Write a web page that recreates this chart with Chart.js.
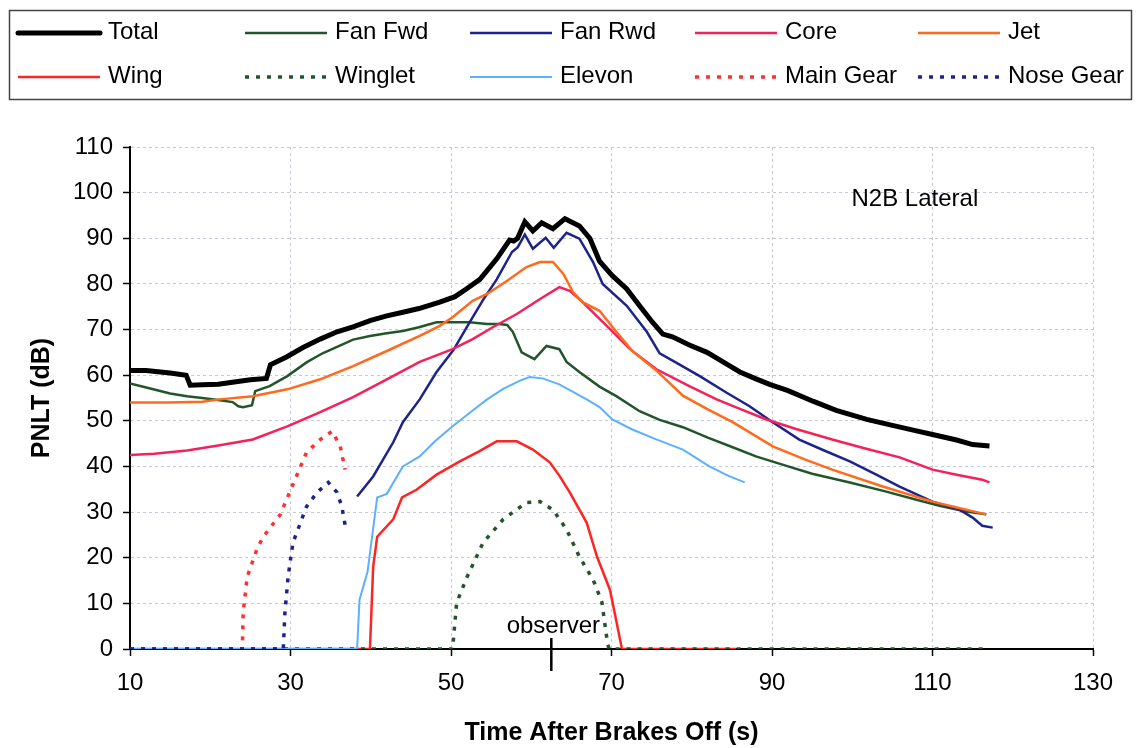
<!DOCTYPE html>
<html>
<head>
<meta charset="utf-8">
<script src="https://cdn.jsdelivr.net/npm/chart.js@4.4.1/dist/chart.umd.min.js"></script>
<style>
  html, body { margin: 0; padding: 0; background: #fff; }
  #wrap { width: 1138px; height: 748px; }
</style>
</head>
<body>
<div id="wrap"><canvas id="pnlt" width="1138" height="748"></canvas></div>
<script>
// [time (s), PNLT (dB)] pairs
const total = [
    [10,61],[12,61],[15,60.5],[17,60],[17.5,57.8],[19,57.9],[21,58],[23,58.5],[25,59],[27,59.3],
    [27.5,62.3],[29.5,64],[31.5,66],[33.7,67.9],[35.8,69.5],[37.8,70.6],[40,72],[42,73],[44,73.8],
    [46,74.6],[48.6,76],[50.5,77.2],[52,79],[53.6,81],[55.7,85.5],[57.3,89.6],[57.8,89.4],[58.3,90],
    [59.2,93.6],[60.2,91.6],[61.3,93.4],[62.7,92.1],[64.2,94.3],[66,92.7],[67.3,90],[68.5,85],
    [70.1,81.8],[71.9,78.9],[73.5,75.2],[75.1,71.6],[76.4,69],[77.6,68.4],[79.7,66.6],[81.9,65],
    [84,62.8],[86,60.7],[88,59.2],[89.7,58],[92,56.6],[95.1,54.3],[98,52.3],[101.8,50.3],[105,49],
    [108,47.8],[110,47],[113,45.8],[115,44.8],[117.1,44.5]
];
const fanFwd = [
    [10,58.2],[12.9,56.9],[15,56],[17.1,55.4],[19,55],[21.2,54.5],[22.8,54.1],[23.5,53.2],[24.1,53],
    [25.2,53.4],[25.6,56.5],[27.4,57.6],[29.6,59.8],[32,62.8],[34,64.8],[35.8,66.2],[37.8,67.8],
    [39.9,68.6],[42,69.2],[44,69.7],[46,70.5],[48.2,71.6],[50,71.6],[52.3,71.6],[54.5,71.2],[56,71.2],
    [57,71],[57.7,69.5],[58.8,65],[60.4,63.5],[61.9,66.4],[63.5,65.7],[64.4,62.9],[66,60.7],[68.5,57.5],
    [70.6,55.4],[73.5,52.1],[76,50.2],[78.9,48.6],[82,46.3],[85.1,44.2],[88,42.2],[91.3,40.4],[95,38.4],
    [99.7,36.5],[104,34.6],[108,32.7],[111,31.3],[114.2,30.1],[116.7,29.5]
];
const fanRwd = [
    [38.3,33.4],[40.3,37.8],[42.8,45.3],[44,49.7],[46.1,54.7],[48.2,60.7],[50.3,65.5],[52.3,71.5],
    [54,76.5],[55.7,81],[57.6,87],[58.3,88],[59.2,90.8],[60.2,87.7],[61.8,90.1],[62.8,87.9],[64.4,91.2],
    [66,89.9],[67.7,84.8],[68.9,80],[71.9,75.2],[74.4,69.5],[76,64.8],[78,62.8],[81,59.8],[84.3,56.2],
    [87.2,53.2],[90,49.8],[93.4,45.9],[96.5,43.5],[99.7,41.1],[103,38.2],[105.9,35.6],[110,32.3],
    [113.4,30.5],[115,28.8],[116.2,27],[117.5,26.6]
];
const core = [
    [10,42.5],[13,42.8],[17.1,43.5],[21,44.6],[25.3,45.9],[29.6,48.8],[33.7,51.9],[37.8,55.2],[42,59.1],
    [46.1,62.9],[50.2,65.7],[52.7,67.9],[55.2,70.5],[58.2,73.4],[61.1,76.7],[63.5,79.3],[64.8,78.5],
    [66.4,76],[69.4,70.8],[72.3,65.7],[75.6,61.3],[79.7,57.6],[83.1,54.7],[86,52.6],[89.3,50.3],
    [93,48.2],[97.5,45.9],[101.5,44],[105.9,42],[110,39.3],[113,38.2],[116.2,37.1],[117.1,36.5]
];
const jet = [
    [10,54],[15,54],[19,54.2],[21.2,54.7],[25.3,55.4],[29.6,56.9],[33.7,59.1],[37.8,62],[42,65.3],
    [46.1,68.6],[48.6,70.8],[50.2,72.7],[52.7,76.3],[54.5,77.8],[57,80.7],[59.4,83.7],[61.1,84.8],
    [62.7,84.8],[64,82.2],[65.2,78.2],[66.4,76],[68.5,74.1],[70.6,69.5],[72.6,65.3],[75.6,61],
    [78.9,55.5],[82,52.5],[85.1,49.7],[90.1,44.4],[94,41.6],[97.5,39.3],[103.8,35.6],[110,32.3],
    [113,31],[116.7,29.5]
];
const wing = [
    [10,0],[39.9,0],[40.3,18],[40.8,24.6],[42.8,28.4],[43.9,33.2],[45.7,34.9],[48.2,38.2],[51.1,41.1],
    [53.5,43.3],[55.7,45.5],[58.2,45.5],[60.2,43.7],[62.3,40.9],[63.5,38],[64.8,34.3],[66.9,27.7],
    [68.2,20.2],[69.8,13],[70.4,7.9],[71.3,0],[85.5,0]
];
const winglet = [
    [10,0],[50.2,0],[50.7,10.1],[52,15.8],[54,23.3],[56.5,28.4],[59.4,32.1],[61.1,32.3],[62.7,30.5],
    [64.4,26.2],[66,20.2],[67.7,15.2],[68.8,10.3],[69.5,1.3],[69.7,0],[117,0]
];
const elevon = [
    [10,0],[38.3,0],[38.6,10.8],[39.6,16.9],[40.8,33.2],[42,34],[44,40],[46.1,42.2],[48,45.5],
    [50.2,48.8],[52.5,52],[54.5,54.7],[56.5,57],[58.6,58.8],[59.8,59.6],[61.4,59.3],[63.5,58],
    [66.9,54.7],[68.5,53],[70.1,50.3],[72.6,48.1],[75.5,46],[78.9,43.7],[82.2,40],[84.5,38],[86.6,36.5]
];
const mainGear = [
    [10,0],[24,0],[24.1,7.9],[24.6,15.8],[25.8,21.8],[26.6,24.6],[28.7,29.4],[30.2,35.6],[32,43.1],
    [33.7,45.9],[35.2,47.7],[36.2,44.4],[36.8,39.3]
];
const noseGear = [
    [10,0],[29.1,0],[29.3,7.9],[29.7,15.8],[30.3,23.3],[32,31.2],[33.3,34.3],[34.7,36.5],[35.8,34.3],
    [36.4,31.2],[36.9,26.2]
];

const observerTime = 62.5;
const annotationText = 'N2B Lateral';

const FONT = "Arial, 'Liberation Sans', sans-serif";
const dots = [4, 7];

function series(label, pts, color, width, dash) {
    return {
        label: label,
        data: pts.map(p => ({ x: p[0], y: p[1] })),
        borderColor: color,
        backgroundColor: color,
        borderWidth: width,
        borderDash: dash || [],
        pointRadius: 0,
        tension: 0,
        fill: false
    };
}

const datasets = [
    series('Total', total, '#000000', 5),
    series('Fan Fwd', fanFwd, '#22552c', 2.5),
    series('Fan Rwd', fanRwd, '#1c248c', 2.5),
    series('Core', core, '#f5215a', 2.5),
    series('Jet', jet, '#ff6a1c', 2.5),
    series('Wing', wing, '#ff2424', 2.5),
    series('Winglet', winglet, '#22552c', 3.5, dots),
    series('Elevon', elevon, '#5cb0ff', 2),
    series('Main Gear', mainGear, '#ff3030', 3.5, dots),
    series('Nose Gear', noseGear, '#1c248c', 3.5, dots)
];
// excel order: later series on top
datasets.forEach((d, i) => { d.order = datasets.length - i; });

// boxed legend in 5 columns, drawn on top of the chart
const boxLegend = {
    id: 'boxLegend',
    afterDraw(chart) {
        const ctx = chart.ctx;
        const cols = [18, 245, 470, 695, 918];
        const rows = [33, 77];
        ctx.save();
        ctx.strokeStyle = '#444';
        ctx.lineWidth = 1.5;
        ctx.strokeRect(9.5, 10.5, 1122, 89);
        ctx.font = '24px ' + FONT;
        ctx.textBaseline = 'middle';
        ctx.fillStyle = '#000';
        chart.data.datasets.forEach((ds, i) => {
            const x = cols[i % 5];
            const y = rows[Math.floor(i / 5)];
            ctx.beginPath();
            ctx.strokeStyle = ds.borderColor;
            ctx.lineWidth = ds.borderWidth;
            ctx.lineCap = ds.borderWidth >= 5 ? 'round' : 'butt';
            ctx.setLineDash(ds.borderDash);
            ctx.moveTo(x, y);
            ctx.lineTo(x + 82, y);
            ctx.stroke();
            ctx.setLineDash([]);
            ctx.fillText(ds.label, x + 90, y - 1);
        });
        ctx.restore();
    }
};

// observer marker and panel label
const marks = {
    id: 'marks',
    afterDraw(chart) {
        const ctx = chart.ctx;
        const xs = chart.scales.x;
        const ys = chart.scales.y;
        const px = xs.getPixelForValue(observerTime);
        const base = ys.getPixelForValue(0);
        ctx.save();
        ctx.strokeStyle = '#000';
        ctx.lineWidth = 2.5;
        ctx.beginPath();
        ctx.moveTo(px, base - 11);
        ctx.lineTo(px, base + 22);
        ctx.stroke();
        ctx.fillStyle = '#000';
        ctx.font = '24px ' + FONT;
        ctx.textAlign = 'center';
        ctx.textBaseline = 'alphabetic';
        ctx.fillText('observer', px + 2, base - 16);
        ctx.textBaseline = 'middle';
        ctx.fillText(annotationText, xs.getPixelForValue(107.8), ys.getPixelForValue(98.5));
        ctx.restore();
    }
};

const whiteBg = {
    id: 'whiteBg',
    beforeDraw(chart) {
        const ctx = chart.ctx;
        ctx.save();
        ctx.fillStyle = '#fff';
        ctx.fillRect(0, 0, chart.width, chart.height);
        ctx.restore();
    }
};

const gridColor = '#c5c9d6';

new Chart(document.getElementById('pnlt'), {
    type: 'line',
    data: { datasets },
    plugins: [whiteBg, boxLegend, marks],
    options: {
        responsive: false,
        animation: false,
        devicePixelRatio: 1,
        layout: { padding: { top: 147, left: 0, right: 45, bottom: 0 } },
        plugins: {
            legend: { display: false },
            tooltip: { enabled: false }
        },
        scales: {
            x: {
                type: 'linear',
                min: 10,
                max: 130,
                afterFit(scale) { scale.height = 99; },
                ticks: {
                    stepSize: 20,
                    color: '#000',
                    padding: 13,
                    font: { family: FONT, size: 24 }
                },
                grid: {
                    color: gridColor,
                    lineWidth: 1,
                    tickColor: '#000',
                    tickLength: 7,
                    tickWidth: 1.5
                },
                border: { display: true, color: '#000', width: 2, dash: [3, 3] },
                title: {
                    display: true,
                    text: 'Time After Brakes Off (s)',
                    color: '#000',
                    font: { family: FONT, size: 25, weight: 'bold', lineHeight: 1 },
                    padding: { top: 0, bottom: 2 }
                }
            },
            y: {
                min: 0,
                max: 110,
                afterFit(scale) { scale.width = 130; },
                ticks: {
                    stepSize: 10,
                    color: '#000',
                    padding: 10,
                    font: { family: FONT, size: 24 }
                },
                grid: {
                    color: gridColor,
                    lineWidth: 1,
                    tickColor: '#000',
                    tickLength: 7,
                    tickWidth: 1.5
                },
                border: { display: true, color: '#000', width: 2, dash: [3, 3] },
                title: {
                    display: true,
                    text: 'PNLT (dB)',
                    color: '#000',
                    font: { family: FONT, size: 25, weight: 'bold', lineHeight: 1.2 },
                    padding: { top: 27, bottom: 0 }
                }
            }
        }
    }
});
</script>
</body>
</html>
